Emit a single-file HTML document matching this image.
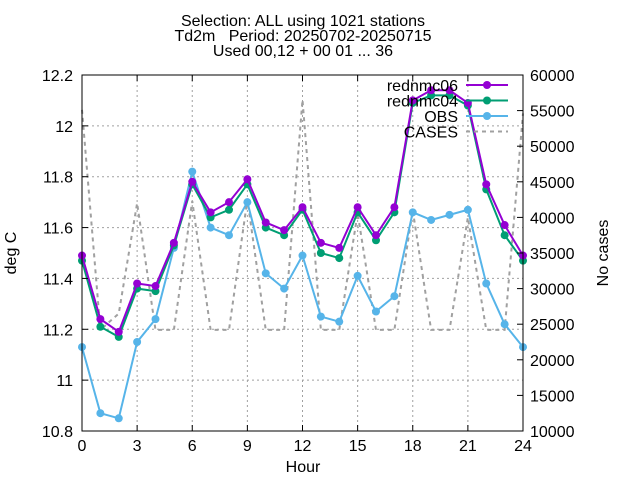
<!DOCTYPE html>
<html><head><meta charset="utf-8"><style>
body{margin:0;background:#fff}
svg{font-family:"Liberation Sans",sans-serif;font-size:16px}
</style></head><body>
<svg id="chart" width="640" height="480" viewBox="0 0 640 480" xmlns="http://www.w3.org/2000/svg">
<g text-anchor="middle" font-size="16">
<text x="303" y="26">Selection: ALL using  1021 stations</text>
<text x="303" y="41" xml:space="preserve">Td2m   Period: 20250702-20250715</text>
<text x="303" y="56">Used 00,12 + 00 01 ... 36</text>
</g>
<g id="grid"></g>
<g id="marks"></g>
<rect x="82" y="75" width="441" height="356" fill="none" stroke="#000" stroke-width="1"/>
<g id="axes"></g>
<text transform="translate(16,253) rotate(-90)" text-anchor="middle">deg C</text>
<text transform="translate(608,253) rotate(-90)" text-anchor="middle">No cases</text>
<text x="303" y="472" text-anchor="middle">Hour</text>
<g id="legend"></g>
</svg>
<script>
const hours=[0,1,2,3,4,5,6,7,8,9,10,11,12,13,14,15,16,17,18,19,20,21,22,23,24];
const rednmc06=[11.49,11.24,11.19,11.38,11.37,11.54,11.78,11.66,11.70,11.79,11.62,11.59,11.68,11.54,11.52,11.68,11.57,11.68,12.10,12.14,12.14,12.09,11.77,11.61,11.49];
const rednmc04=[11.47,11.21,11.17,11.36,11.35,11.53,11.77,11.64,11.67,11.77,11.60,11.57,11.67,11.50,11.48,11.66,11.55,11.66,12.09,12.12,12.12,12.08,11.75,11.57,11.47];
const obs=[11.13,10.87,10.85,11.15,11.24,11.52,11.82,11.60,11.57,11.70,11.42,11.36,11.49,11.25,11.23,11.41,11.27,11.33,11.66,11.63,11.65,11.67,11.38,11.22,11.13];
const cases=[55100,24200,26500,42000,24200,24200,42300,24200,24200,42500,24200,24200,56500,24200,24200,40600,24200,24200,41000,24200,24200,40000,24200,24200,54600];
const xTicks=[0,3,6,9,12,15,18,21,24];
const yTicks=[10.8,11,11.2,11.4,11.6,11.8,12,12.2];
const y2Ticks=[10000,15000,20000,25000,30000,35000,40000,45000,50000,55000,60000];
const X0=82,X1=523,Y0=75,Y1=431;
const xs=h=>X0+(h-0)/24*(X1-X0);
const ys=v=>Y1-(v-10.8)/1.4*(Y1-Y0);
const y2s=v=>Y1-(v-10000)/50000*(Y1-Y0);
const NS='http://www.w3.org/2000/svg';
function mk(tag,attrs,parent){const e=document.createElementNS(NS,tag);for(const k in attrs)e.setAttribute(k,attrs[k]);parent.appendChild(e);return e;}
const grid=document.getElementById('grid'),axes=document.getElementById('axes'),marks=document.getElementById('marks'),legend=document.getElementById('legend');
xTicks.forEach(t=>{const x=xs(t);
 const g=mk('line',{x1:x,x2:x,y1:Y0,y2:Y1,stroke:'#a0a0a0','stroke-dasharray':'2,3'},grid);
 
 mk('line',{x1:x,x2:x,y1:Y1,y2:Y1-6,stroke:'#000'},axes);mk('line',{x1:x,x2:x,y1:Y0,y2:Y0+6,stroke:'#000'},axes);
 const l=mk('text',{x:x,y:Y1+20,'text-anchor':'middle'},axes);l.textContent=t;
 });
yTicks.forEach(t=>{const y=ys(t);
 if(t>10.81&&t<12.19){const g=mk('line',{x1:X0,x2:X1,y1:y,y2:y,stroke:'#a0a0a0','stroke-dasharray':'2,3'},grid);
 }
 mk('line',{x1:X0,x2:X0+6,y1:y,y2:y,stroke:'#000'},axes);
 const l=mk('text',{x:73,y:y+6,'text-anchor':'end'},axes);l.textContent=String(Math.round(t*10)/10);
 });
y2Ticks.forEach(t=>{const y=y2s(t);
 mk('line',{x1:X1,x2:X1-6,y1:y,y2:y,stroke:'#000'},axes);
 const l=mk('text',{x:530,y:y+6,'text-anchor':'start'},axes);l.textContent=t;
 });
const cp=mk('polyline',{points:hours.map((h,i)=>xs(h)+','+y2s(cases[i])).join(' '),fill:'none',stroke:'#a0a0a0','stroke-width':2,'stroke-dasharray':'4,4'},marks);

function series(vals,color,name){
 const g=mk('g',{},marks);
 
 mk('polyline',{points:hours.map((h,i)=>xs(h)+','+ys(vals[i])).join(' '),fill:'none',stroke:color,'stroke-width':2},g);
 hours.forEach((h,i)=>{const c=mk('circle',{cx:xs(h),cy:ys(vals[i]),r:4,fill:color},g);
  });
}
series(obs,'#56b4e9','obs');
series(rednmc04,'#009e73','rednmc04');
series(rednmc06,'#9400d3','rednmc06');
const leg=[['rednmc06','#9400d3',false],['rednmc04','#009e73',false],['OBS','#56b4e9',false],['CASES','#a0a0a0',true]];
leg.forEach((d,i)=>{const y=85+i*15.5;
 const g=mk('g',{},legend);
 
 const t=mk('text',{x:458,y:y+6,'text-anchor':'end'},g);t.textContent=d[0];
 if(d[2]){mk('line',{x1:466,x2:508,y1:y,y2:y,stroke:d[1],'stroke-width':2,'stroke-dasharray':'4,4'},g);}
 else{mk('line',{x1:466,x2:508,y1:y,y2:y,stroke:d[1],'stroke-width':2},g);mk('circle',{cx:487,cy:y,r:4,fill:d[1]},g);}
});
</script>
</body></html>
